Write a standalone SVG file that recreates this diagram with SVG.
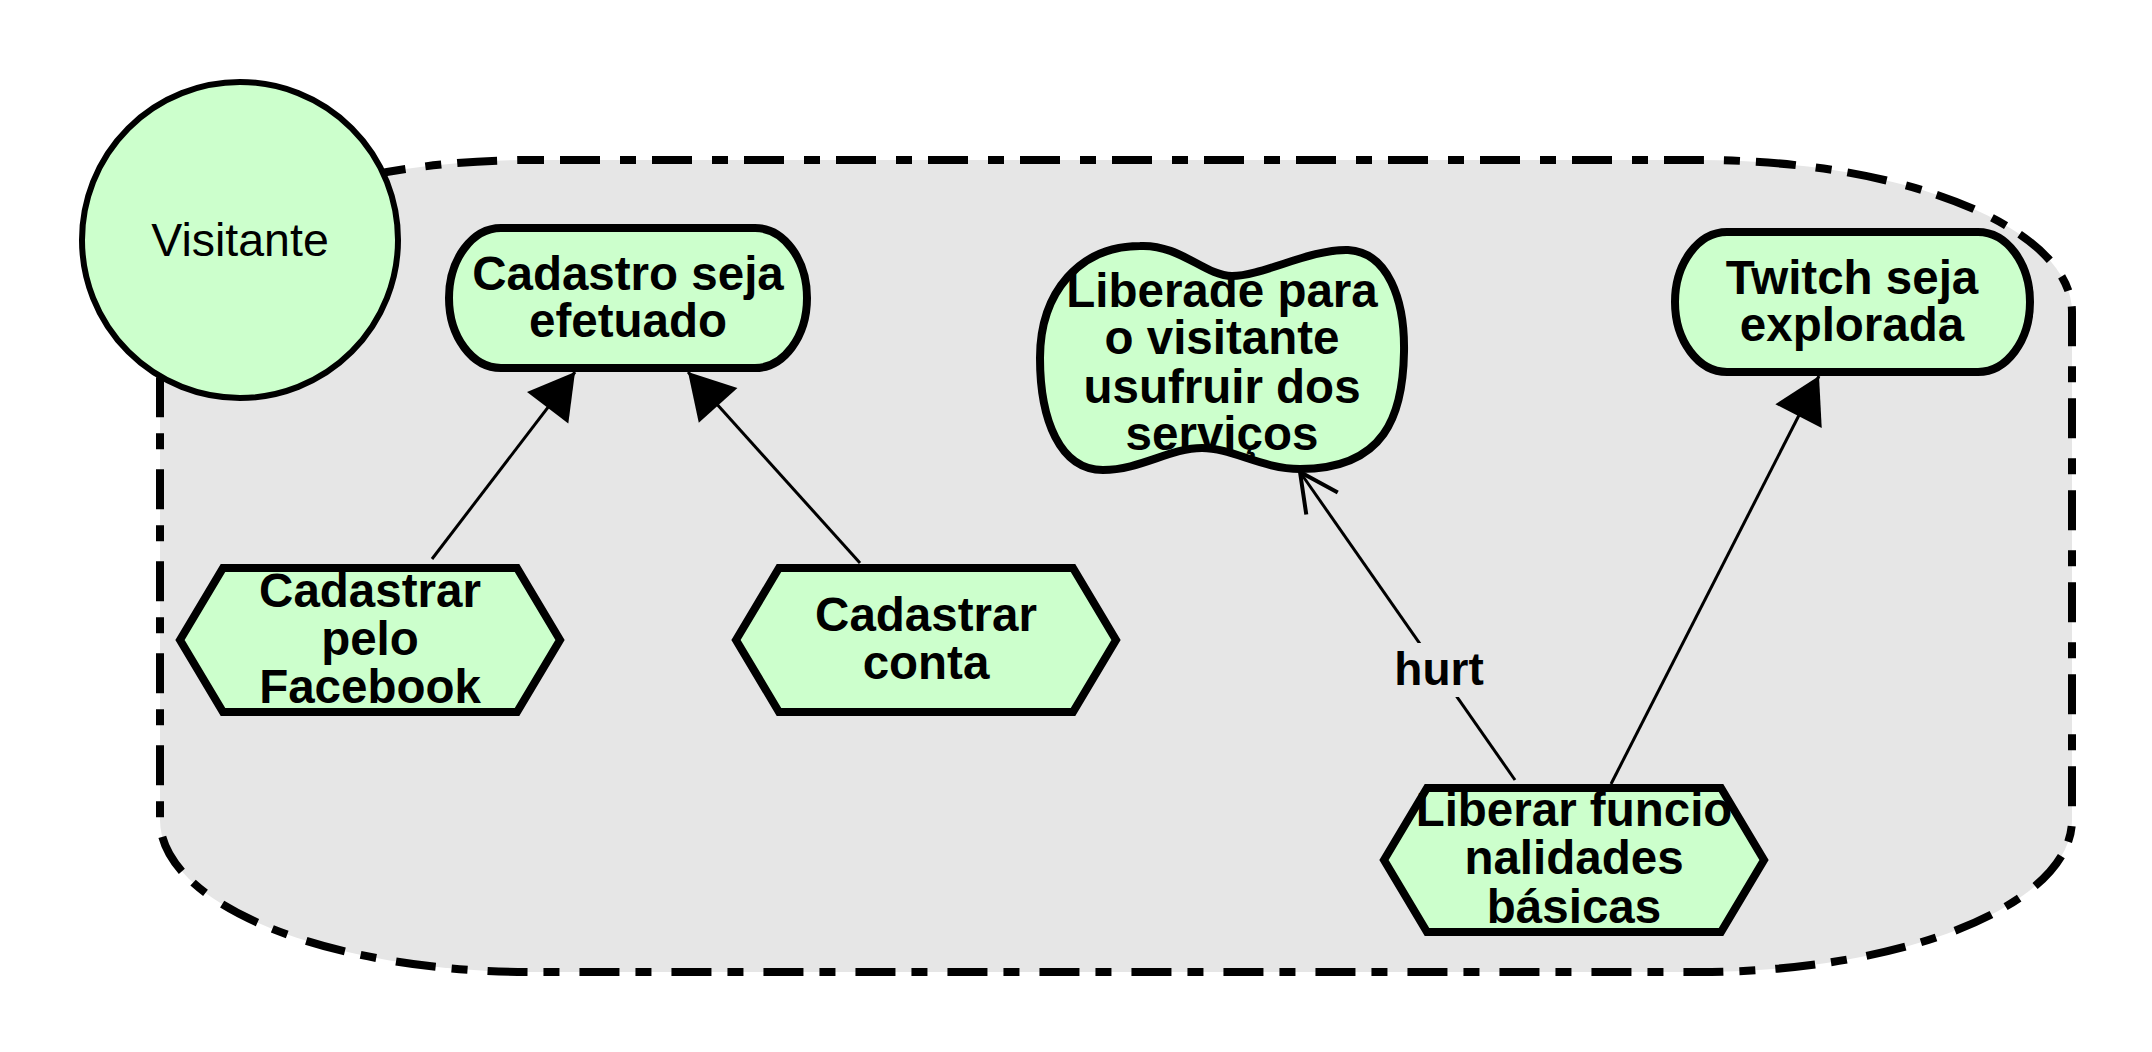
<svg xmlns="http://www.w3.org/2000/svg" width="2152" height="1052" viewBox="0 0 2152 1052">
  <style>
    .node { fill: #ccffcc; stroke: #000; stroke-width: 8; stroke-linejoin: miter; }
    .lbl { font-family: "Liberation Sans", Arial, sans-serif; font-weight: bold; font-size: 47.5px; fill: #000; text-anchor: middle; }
    .actor-lbl { font-family: "Liberation Sans", Arial, sans-serif; font-size: 46.5px; fill: #000; text-anchor: middle; }
    .link { fill: none; stroke: #000; stroke-width: 3; }
  </style>
  <defs>
    <marker id="tri" markerUnits="userSpaceOnUse" viewBox="0 0 45 52" refX="45" refY="26" markerWidth="45" markerHeight="52" orient="auto" overflow="visible">
      <path d="M0,0 L45,26 L0,52 Z" fill="#000"/>
    </marker>
    <marker id="open" markerUnits="userSpaceOnUse" viewBox="0 0 44 40" refX="40" refY="20" markerWidth="44" markerHeight="40" orient="auto" overflow="visible">
      <path d="M1.5,0.8 L40,20 L1.5,39.2" fill="none" stroke="#000" stroke-width="4"/>
    </marker>
  </defs>
  <rect width="2152" height="1052" fill="#fff"/>

  <g id="boundary">
    <path d="M532,160 H1700 A372,152 0 0 1 2072,312 V820 A372,152 0 0 1 1700,972 H532 A372,152 0 0 1 160,820 V312 A372,152 0 0 1 532,160 Z" fill="#e6e6e6" stroke="#000" stroke-width="8" stroke-dasharray="40 20 16 16" stroke-dashoffset="-28"/>
  </g>

  <g id="actor-visitante">
    <circle cx="240" cy="240" r="158" fill="#ccffcc" stroke="#000" stroke-width="6"/>
    <text class="actor-lbl" x="240" y="256">Visitante</text>
  </g>

  <g id="connectors">
    <line class="link" x1="432" y1="559" x2="575" y2="372" marker-end="url(#tri)"/>
    <line class="link" x1="860" y1="563" x2="688" y2="372" marker-end="url(#tri)"/>
    <line class="link" x1="1611" y1="784" x2="1819" y2="376" marker-end="url(#tri)"/>
    <line class="link" x1="1515" y1="780" x2="1300" y2="472" marker-end="url(#open)"/>
    <rect x="1392" y="643" width="94" height="54" fill="#e6e6e6"/>
    <text class="lbl" x="1439" y="685" style="font-size:46px">hurt</text>
  </g>

  <g id="goal-cadastro">
    <rect class="node" x="449" y="228" width="358" height="140" rx="52" ry="70"/>
    <text class="lbl" x="628"><tspan x="628" y="290">Cadastro seja</tspan><tspan x="628" y="337">efetuado</tspan></text>
  </g>

  <g id="softgoal-liberade">
    <path class="node" d="M1140,246 C1180,244 1205,276 1232,276 C1262,276 1310,249 1348,250 C1388,252 1405,300 1404,352 C1403,415 1385,469 1300,469 C1262,469 1232,448 1202,448 C1170,448 1140,470 1103,470 C1060,470 1040,420 1040,358 C1040,292 1080,246 1140,246 Z"/>
    <text class="lbl" x="1222"><tspan x="1222" y="307">Liberade para</tspan><tspan x="1222" y="354">o visitante</tspan><tspan x="1222" y="403">usufruir dos</tspan><tspan x="1222" y="450">serviços</tspan></text>
  </g>

  <g id="goal-twitch">
    <rect class="node" x="1675" y="232" width="355" height="140" rx="52" ry="70"/>
    <text class="lbl" x="1852"><tspan x="1852" y="294">Twitch seja</tspan><tspan x="1852" y="341">explorada</tspan></text>
  </g>

  <g id="task-facebook">
    <polygon class="node" points="180,640 223,568 517,568 560,640 517,712 223,712"/>
    <text class="lbl" x="370"><tspan x="370" y="607">Cadastrar</tspan><tspan x="370" y="655">pelo</tspan><tspan x="370" y="703">Facebook</tspan></text>
  </g>

  <g id="task-conta">
    <polygon class="node" points="736,640 779,568 1073,568 1116,640 1073,712 779,712"/>
    <text class="lbl" x="926"><tspan x="926" y="631">Cadastrar</tspan><tspan x="926" y="679">conta</tspan></text>
  </g>

  <g id="task-liberar">
    <polygon class="node" points="1384,860 1427,788 1721,788 1764,860 1721,932 1427,932"/>
    <text class="lbl" x="1574"><tspan x="1574" y="826">Liberar funcio</tspan><tspan x="1574" y="874">nalidades</tspan><tspan x="1574" y="923">básicas</tspan></text>
  </g>
</svg>
